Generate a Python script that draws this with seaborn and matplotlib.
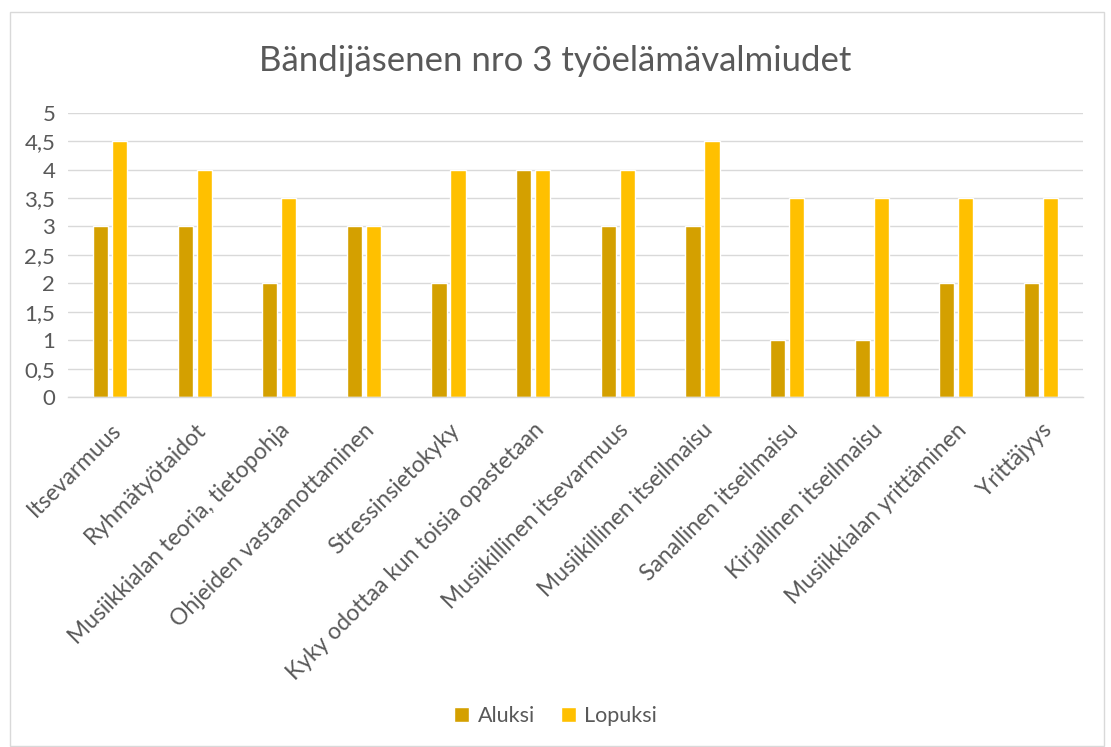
import matplotlib
matplotlib.use("Agg")
import matplotlib.pyplot as plt
import matplotlib.transforms as mtransforms
import seaborn as sns
import pandas as pd
from matplotlib.patches import Rectangle

categories = ["Itsevarmuus", "Ryhmätyötaidot", "Musiikkialan teoria, tietopohja",
              "Ohjeiden vastaanottaminen", "Stressinsietokyky",
              "Kyky odottaa kun toisia opastetaan", "Musiikillinen itsevarmuus",
              "Musiikillinen itseilmaisu", "Sanallinen itseilmaisu",
              "Kirjallinen itseilmaisu", "Musiikkialan yrittäminen", "Yrittäjyys"]
aluksi = [3, 3, 2, 3, 2, 4, 3, 3, 1, 1, 2, 2]
lopuksi = [4.5, 4, 3.5, 3, 4, 4, 4, 4.5, 3.5, 3.5, 3.5, 3.5]
series = ["Aluksi", "Lopuksi"]
yticks = [0, 0.5, 1, 1.5, 2, 2.5, 3, 3.5, 4, 4.5, 5]
yticklabels = ["0", "0,5", "1", "1,5", "2", "2,5", "3", "3,5", "4", "4,5", "5"]
title = "Bändijäsenen nro 3 työelämävalmiudet"

df = pd.DataFrame({
    "kategoria": categories * 2,
    "sarja": [series[0]] * len(categories) + [series[1]] * len(categories),
    "arvo": aluksi + lopuksi,
})

sns.set_theme(style="white")
plt.rcParams["font.family"] = ["Lato", "DejaVu Sans"]

fig = plt.figure(figsize=(11.11, 7.47), dpi=100)
ax = fig.add_axes([0.061, 0.4685, 0.914, 0.3805])

palette = {"Aluksi": "#D4A000", "Lopuksi": "#FFC000"}
sns.barplot(data=df, x="kategoria", y="arvo", hue="sarja", order=categories,
            hue_order=series, palette=palette, width=0.45, gap=0.2,
            saturation=1, ax=ax, legend=True)

ax.set_ylim(0, 5)
ax.set_xlim(-0.5, len(categories) - 0.5)
ax.set_yticks(yticks)
ax.set_yticklabels(yticklabels, color="#595959", fontsize=16)
ax.set_xticks(range(len(categories)))
ax.set_xticklabels(categories, rotation=45, ha="right", rotation_mode="anchor",
                   color="#595959", fontsize=16.5)
offset = mtransforms.ScaledTranslation(6 / 100, 0, fig.dpi_scale_trans)
for lbl in ax.get_xticklabels():
    lbl.set_transform(lbl.get_transform() + offset)
ax.tick_params(axis="x", length=0, pad=16)
ax.tick_params(axis="y", length=0, pad=9)
ax.set_xlabel("")
ax.set_ylabel("")
ax.yaxis.grid(True, color="#D9D9D9", linewidth=1)
ax.set_axisbelow(True)
for s in ["top", "right", "left"]:
    ax.spines[s].set_visible(False)
ax.spines["bottom"].set_color("#D9D9D9")
ax.spines["bottom"].set_linewidth(1)

fig.text(0.5, 0.918, title, ha="center", va="center", fontsize=25, color="#595959")

handles, labels = ax.get_legend_handles_labels()
ax.get_legend().remove()
fig.legend(handles, labels, loc="center", bbox_to_anchor=(0.5, 0.042), ncol=2,
           frameon=False, fontsize=15.5, labelcolor="#595959", handlelength=0.7,
           handleheight=0.7, handletextpad=0.4, columnspacing=1.2)

fig.patches.append(Rectangle((0.009, 0.002), 0.985, 0.982, transform=fig.transFigure,
                             fill=False, edgecolor="#D9D9D9", linewidth=1))

fig.savefig("out.png", dpi=100, facecolor="white")
